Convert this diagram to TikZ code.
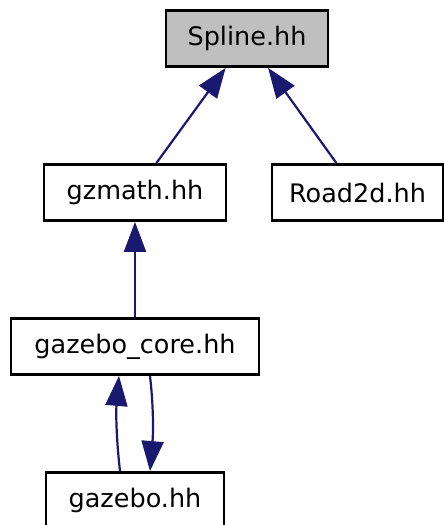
\documentclass[tikz,border=0pt]{standalone}
\usepackage{fontspec}
\setmainfont{DejaVu Sans}
\usepackage{xcolor}
\usepackage{tikz}
\usetikzlibrary{arrows.meta,positioning}

\definecolor{edgeblue}{HTML}{191970}
\definecolor{curgray}{HTML}{BFBFBF}

\begin{document}
\begin{tikzpicture}[x=1pt,y=-1pt,
  file/.style={draw,line width=2.8pt,fill=white,minimum height=56pt,inner sep=0pt,
    font=\fontsize{25.5}{30}\selectfont},
  dep/.style={draw=edgeblue,line width=2.2pt,-{Triangle[length=30pt,width=22pt]}}]
  \useasboundingbox (0,0) rectangle (444,525);

  \node[file,fill=curgray,minimum width=162pt] (spline) at (247,38.5) {Spline.hh};
  \node[file,minimum width=182pt] (gzmath) at (135,192.5) {gzmath.hh};
  \node[file,minimum width=171pt] (road) at (357.5,192.5) {Road2d.hh};
  \node[file,minimum width=248pt] (core) at (135,346.5) {gazebo\_core.hh};
  \node[file,minimum width=178pt] (gazebo) at (135,500.5) {gazebo.hh};

  \draw[dep] (gzmath) -- (spline);
  \draw[dep] (road) -- (spline);
  \draw[dep] (core) -- (gzmath);
  \draw[dep] ([xshift=-15pt]gazebo.north) .. controls +(-4,-35) and +(-3,35) .. ([xshift=-16pt]core.south);
  \draw[dep] ([xshift=15pt]core.south) .. controls +(4,35) and +(3,-35) .. ([xshift=15pt]gazebo.north);
\end{tikzpicture}
\end{document}
